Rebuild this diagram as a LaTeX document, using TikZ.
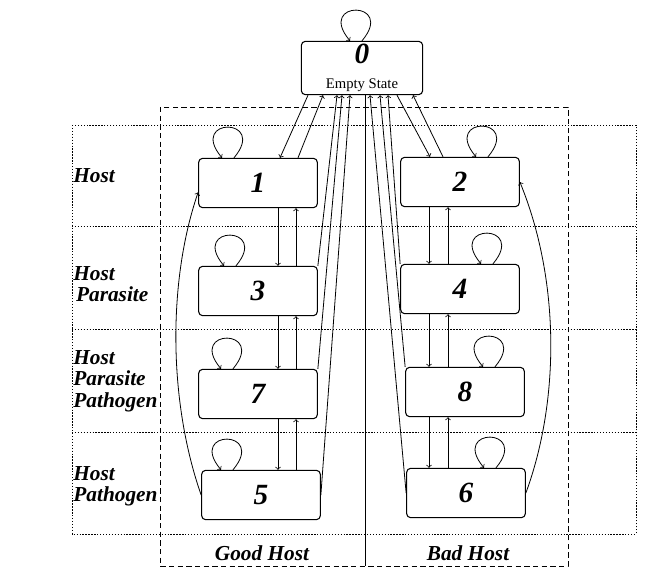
\documentclass[tikz,border=0pt]{standalone}
\usepackage{fontspec}
\setmainfont{Liberation Serif}
\begin{document}
\begin{tikzpicture}[x = 0.75pt, y = -0.75pt, line width = 0.6pt,
                    state/.style     = {rectangle, draw, line width = 0.8pt, rounded corners = 3pt, fill = white, minimum width = 89pt, minimum height = 37pt, inner sep = 1pt, font = \fontsize{22}{22}\selectfont\bfseries\itshape},
                    row/.style       = {anchor = west, align = left, inner sep = 0pt, font = \fontsize{16}{16}\selectfont\bfseries\itshape},
                    gridline/.style  = {dash pattern = on 1pt off 1.2pt},
                    groupline/.style = {dash pattern = on 4pt off 2.5pt}
                    ]
    \useasboundingbox (0, 0) rectangle (664, 588);

    % rows and host groups
    \draw[gridline] (72, 125) rectangle (636, 534);
    \foreach \y in {226, 329, 432}
        \draw[gridline] (72, \y) -- (636, \y);
    \draw[groupline] (160, 107) rectangle (568, 566);

    \node[state, minimum width = 91pt, minimum height = 40pt, align = center] (b0) at (362, 68) {0\\[-3pt]{\fontsize{11}{11}\selectfont\mdseries\upshape Empty State}};

    \node[state] (b1) at (258, 183) {1};
    \node[state] (b3) at (258, 291) {3};
    \node[state] (b7) at (258, 394) {7};
    \node[state] (b5) at (261, 495) {5};
    \node[state] (b2) at (460, 182) {2};
    \node[state] (b4) at (460, 289) {4};
    \node[state] (b8) at (465, 392) {8};
    \node[state] (b6) at (466, 493) {6};

    \node[row] (lh)   at (73, 176) {Host};
    \node[row] (lhp)  at (73, 284) {Host\\\hspace{2pt}Parasite};
    \node[row] (lhpp) at (73, 381) {Host\\Parasite\\Pathogen};
    \node[row] (lhpg) at (73, 486) {Host\\Pathogen};
    \node[row, anchor = center] (good) at (262, 553) {Good Host};
    \node[row, anchor = center] (bad)  at (468, 553) {Bad Host};

    \draw (365,0 |- b0.south) -- (365, 566);

    % to and from the empty state
    \draw[->] (308,0 |- b0.south) -- (280,0 |- b1.north);
    \draw[->] (298,0 |- b1.north) -- (323,0 |- b0.south);
    \draw[->] (b3.north east) -- (337,0 |- b0.south);
    \draw[->] (b7.north east) -- (342,0 |- b0.south);
    \draw[->] (b5.east) -- (350,0 |- b0.south);
    \draw[->] (397,0 |- b0.south) -- (430,0 |- b2.north);
    \draw[->] (443,0 |- b2.north) -- (413,0 |- b0.south);
    \draw[->] (b4.north west) -- (388,0 |- b0.south);
    \draw[->] (b8.north west) -- (380,0 |- b0.south);
    \draw[->] (b6.west) -- (370,0 |- b0.south);

    % down and up between rows
    \foreach \a/\b in {b1/b3, b3/b7, b7/b5} {
        \draw[->] (278,0 |- \a.south) -- (278,0 |- \b.north);
        \draw[->] (296,0 |- \b.north) -- (296,0 |- \a.south);
    }
    \foreach \a/\b in {b2/b4, b4/b8, b8/b6} {
        \draw[->] (429,0 |- \a.south) -- (429,0 |- \b.north);
        \draw[->] (448,0 |- \b.north) -- (448,0 |- \a.south);
    }

    \draw[->] (b5.west) .. controls (168, 400) and (168, 280) .. ([yshift = -7pt]b1.west);
    \draw[->] (b6.east) .. controls (560, 400) and (560, 280) .. (b2.east);

    % self loops
    \foreach \n/\c in {b0/356, b1/228, b3/230, b7/227, b5/227, b2/482, b4/487, b8/489, b6/490}
        \draw[->] (\c+6,0 |- \n.north) .. controls +(50:40pt) and +(130:40pt) .. (\c-6,0 |- \n.north);
\end{tikzpicture}
\end{document}
